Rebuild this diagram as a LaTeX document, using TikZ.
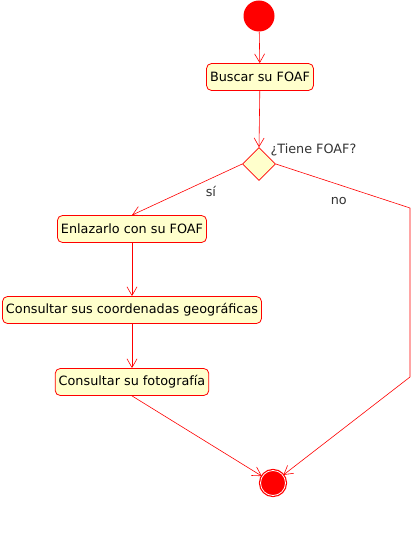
\documentclass[tikz,border=0pt]{standalone}
\usepackage{fontspec}
\setmainfont{DejaVu Sans}
\usetikzlibrary{arrows.meta,shapes.geometric}

\definecolor{notefill}{HTML}{FFFFCC}
\definecolor{labelgray}{HTML}{333333}

\tikzset{
  activity/.style={draw=red, fill=notefill, rounded corners=5pt, line width=0.8pt,
    minimum height=27pt, inner xsep=3.5pt, inner ysep=2pt, font=\fontsize{12.8}{15}\selectfont},
  flow/.style={draw=red, line width=0.6pt, -{Straight Barb[angle=60:10pt]}},
  guard/.style={text=labelgray, font=\fontsize{12.8}{15}\selectfont}
}

\begin{document}
\begin{tikzpicture}[x=1pt,y=-1pt]
\useasboundingbox (0,0) rectangle (411,540);

% Start and end states
\node[circle, fill=red, minimum size=31pt, inner sep=0pt] (inicio) at (259,16) {};
\node[circle, fill=red, draw=red, double=white, double distance=0.8pt, line width=1.2pt,
  minimum size=25pt, inner sep=0pt] (fin) at (273,483) {};

% Activities
\node[activity] (buscar) at (260,77) {Buscar su FOAF};
\node[diamond, draw=red, fill=notefill, line width=0.6pt, minimum size=33pt, inner sep=0pt]
  (decision) at (259,164) {};
\node[guard, anchor=south west] at (267,160) {¿Tiene FOAF?};
\node[activity] (enlazar) at (132,229) {Enlazarlo con su FOAF};
\node[activity] (coords) at (132,310) {Consultar sus coordenadas geográficas};
\node[activity] (foto) at (132,382) {Consultar su fotografía};

% Bends of the "no" branch
\coordinate (noA) at (410,208);
\coordinate (noB) at (410,377);

% Flows
\draw[flow] (inicio) -- (buscar);
\draw[flow] (buscar) -- (decision.north);
\draw[flow] (decision.west) -- node[guard, below right, pos=0.3, xshift=-7pt, yshift=-3pt] {sí} (enlazar.north);
\draw[flow] (decision.east) -- node[guard, below left, pos=0.6, xshift=-6pt, yshift=-3pt] {no} (noA) -- (noB) -- (fin);
\draw[flow] (enlazar) -- (coords);
\draw[flow] (coords) -- (foto);
\draw[flow] (foto.south) -- (fin);

\end{tikzpicture}
\end{document}
